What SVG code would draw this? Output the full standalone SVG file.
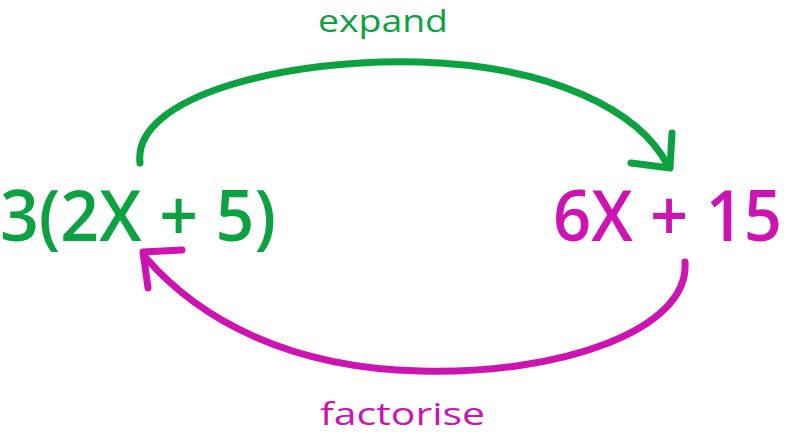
<svg xmlns="http://www.w3.org/2000/svg" width="791" height="440" viewBox="0 0 791 440">
<style>
.g{fill:#0da241}.m{fill:#cc14b0}
.t{font-family:"Open Sans","Noto Sans",sans-serif;font-weight:600}
.big{font-size:70px}
.lab{font-size:31px;font-weight:400}
.arc{fill:none;stroke-width:7;stroke-linecap:round;stroke-linejoin:round}
</style>
<rect width="791" height="440" fill="#fff"/>
<g id="left"><text class="t big g" x="0" y="241" textLength="276" lengthAdjust="spacingAndGlyphs">3(2X + 5)</text></g>
<g id="right"><text class="t big m" x="553" y="241" textLength="229" lengthAdjust="spacingAndGlyphs">6X + 15</text></g>
<g id="expand-label"><text class="t lab g" x="318" y="32" textLength="130" lengthAdjust="spacingAndGlyphs">expand</text></g>
<g id="factorise-label"><text class="t lab m" x="320" y="425" textLength="165" lengthAdjust="spacingAndGlyphs">factorise</text></g>
<g id="connectors">
<path class="arc" stroke="#0da241" d="M140,163 C 132,95 290,58 420,62 C 550,66 640,110 668,166"/>
<path class="arc" stroke="#0da241" d="M631,163 L670,168 L672,133"/>
<path class="arc" stroke="#cc14b0" d="M685,262 C 690,330 560,375 420,371 C 290,368 200,320 146,258"/>
<path class="arc" stroke="#cc14b0" d="M182,250 L143,252 L148,288"/>
</g>
</svg>
